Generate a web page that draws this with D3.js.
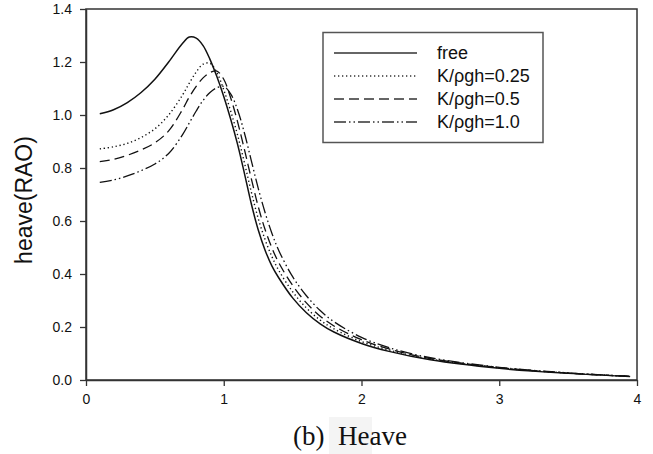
<!DOCTYPE html>
<html>
<head>
<meta charset="utf-8">
<script src="https://cdn.jsdelivr.net/npm/d3@7"></script>
<style>
  body { margin: 0; background: #fff; }
  svg { display: block; }
</style>
</head>
<body>
<div id="chart"></div>
<script>
// frequency values (x) shared by all curves
const freq = [0.1, 0.2, 0.3, 0.4, 0.5, 0.6, 0.7, 0.75, 0.8, 0.85, 0.9, 0.95, 1.0, 1.05, 1.1, 1.15, 1.2, 1.25, 1.3, 1.35, 1.4, 1.5, 1.6, 1.7, 1.8, 2.0, 2.2, 2.5, 3.0, 3.5, 3.95];

// heave RAO
const freeRAO = [1.005, 1.02, 1.047, 1.085, 1.135, 1.2, 1.27, 1.294, 1.29, 1.262, 1.21, 1.145, 1.07, 0.985, 0.89, 0.78, 0.665, 0.567, 0.49, 0.43, 0.385, 0.31, 0.254, 0.212, 0.181, 0.138, 0.108, 0.076, 0.044, 0.025, 0.013];
const k025RAO = [0.872, 0.88, 0.893, 0.915, 0.948, 1.0, 1.075, 1.12, 1.162, 1.192, 1.195, 1.16, 1.095, 1.015, 0.925, 0.82, 0.71, 0.61, 0.53, 0.465, 0.413, 0.333, 0.272, 0.226, 0.193, 0.145, 0.113, 0.079, 0.046, 0.026, 0.014];
const k05RAO = [0.824, 0.833, 0.848, 0.868, 0.895, 0.94, 1.02, 1.068, 1.108, 1.14, 1.16, 1.166, 1.135, 1.065, 0.975, 0.87, 0.76, 0.655, 0.568, 0.498, 0.442, 0.357, 0.291, 0.241, 0.204, 0.152, 0.117, 0.081, 0.047, 0.026, 0.014];
const k10RAO = [0.746, 0.755, 0.77, 0.79, 0.815, 0.855, 0.925, 0.97, 1.015, 1.055, 1.085, 1.103, 1.108, 1.08, 1.02, 0.932, 0.828, 0.724, 0.632, 0.553, 0.488, 0.39, 0.318, 0.262, 0.22, 0.161, 0.122, 0.084, 0.048, 0.027, 0.014];

const legendLabels = ['free', 'K/\u03c1gh=0.25', 'K/\u03c1gh=0.5', 'K/\u03c1gh=1.0'];
const xTicks = [0, 1, 2, 3, 4];
const yTicks = [0, 0.2, 0.4, 0.6, 0.8, 1.0, 1.2, 1.4];

const width = 653;
const height = 454;
const margin = { top: 9, right: 16, bottom: 74, left: 86 };

const svg = d3.select('#chart')
    .append('svg')
    .attr('width', width)
    .attr('height', height);

const x = d3.scaleLinear()
    .domain([0, 4])
    .range([margin.left, width - margin.right]);

const y = d3.scaleLinear()
    .domain([0, 1.4])
    .range([height - margin.bottom, margin.top]);

// line styles per series
const series = [
    { values: freeRAO, dash: null, w: 1.5 },
    { values: k025RAO, dash: '1.3,2.7', w: 1.4 },
    { values: k05RAO, dash: '10,5', w: 1.3 },
    { values: k10RAO, dash: '12,3,1.5,3,1.5,3', w: 1.3 }
];

const line = d3.line()
    .x(d => x(d[0]))
    .y(d => y(d[1]))
    .curve(d3.curveCatmullRom.alpha(0.5));

svg.append('g')
    .selectAll('path')
    .data(series)
    .join('path')
    .attr('d', s => line(freq.map((f, i) => [f, s.values[i]])))
    .attr('fill', 'none')
    .attr('stroke', '#111')
    .attr('stroke-width', s => s.w)
    .attr('stroke-dasharray', s => s.dash);

// frame
svg.append('rect')
    .attr('x', x(0))
    .attr('y', y(1.4))
    .attr('width', x(4) - x(0))
    .attr('height', y(0) - y(1.4))
    .attr('fill', 'none')
    .attr('stroke', '#333')
    .attr('stroke-width', 1.5);

// axes
const xAxis = svg.append('g')
    .attr('transform', `translate(0,${y(0)})`)
    .call(d3.axisBottom(x).tickValues(xTicks).tickFormat(d3.format('d')).tickSize(6).tickPadding(8).tickSizeOuter(0));

const yAxis = svg.append('g')
    .attr('transform', `translate(${x(0)},0)`)
    .call(d3.axisLeft(y).tickValues(yTicks).tickFormat(d3.format('.1f')).tickSize(6).tickPadding(8).tickSizeOuter(0));

[xAxis, yAxis].forEach(g => {
    g.select('.domain').attr('stroke', '#333').attr('stroke-width', 1.5);
    g.selectAll('.tick line').attr('stroke', '#333').attr('stroke-width', 1.3);
    g.selectAll('.tick text')
        .style('font-family', 'Liberation Sans, Arial, sans-serif')
        .style('font-size', '14px')
        .attr('fill', '#111');
});

// axis title
svg.append('text')
    .attr('transform', 'rotate(-90)')
    .attr('x', -200)
    .attr('y', 32)
    .text('heave(RAO)')
    .attr('text-anchor', 'middle')
    .style('font-family', 'Liberation Sans, Arial, sans-serif')
    .style('font-size', '23px')
    .style('fill', '#111');

// legend
const legend = svg.append('g');
legend.append('rect')
    .attr('x', 323)
    .attr('y', 32.5)
    .attr('width', 220)
    .attr('height', 110)
    .attr('fill', '#fff')
    .attr('stroke', '#555')
    .attr('stroke-width', 1.5);

const rows = legend.selectAll('g.row')
    .data(series)
    .join('g')
    .attr('class', 'row')
    .attr('transform', (d, i) => `translate(0,${53 + i * 23})`);

rows.append('line')
    .attr('x1', 334)
    .attr('x2', 417)
    .attr('stroke', '#333')
    .attr('stroke-width', d => d.w)
    .attr('stroke-dasharray', d => d.dash);

rows.append('text')
    .attr('x', 437)
    .attr('dy', '0.36em')
    .text((d, i) => legendLabels[i])
    .style('font-family', 'Liberation Sans, Arial, sans-serif')
    .style('font-size', '18px')
    .style('fill', '#111');

// caption under the chart
svg.append('rect')
    .attr('x', 329)
    .attr('y', 417)
    .attr('width', 43)
    .attr('height', 37)
    .attr('fill', '#f4f4f4');

svg.append('text')
    .attr('x', 350)
    .attr('y', 445)
    .text('(b)\u00a0 Heave')
    .attr('text-anchor', 'middle')
    .style('font-family', 'Liberation Serif, Times New Roman, serif')
    .style('font-size', '27px')
    .style('fill', '#111');
</script>
</body>
</html>
